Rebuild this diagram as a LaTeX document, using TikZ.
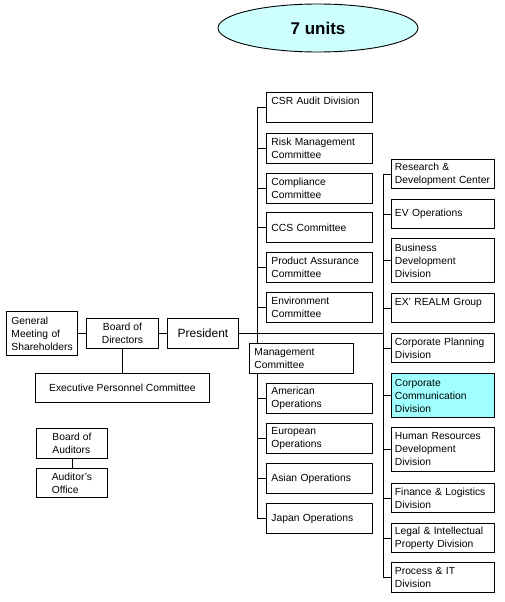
\documentclass[tikz,border=0pt]{standalone}
\usepackage{fontspec}
\setmainfont{Liberation Sans}
\usetikzlibrary{shapes.geometric}
\newcommand{\unitFont}[0]{\fontsize{10.3}{13}\selectfont\hyphenpenalty=10000\exhyphenpenalty=10000}
\definecolor{unitCyan}{RGB}{160,255,255}
\definecolor{ovalCyan}{RGB}{205,255,255}

\begin{document}
\begin{tikzpicture}[x=1pt, y=-1pt, line width=0.9pt]
  \tikzset{box/.style={draw, fill=white, anchor=north west, align=left, inner xsep=5pt, inner ysep=2pt, font=\unitFont},
    left-col/.style={box, text width=96pt, minimum height=30pt},
    right-col/.style={box, inner xsep=3.5pt, text width=96pt, minimum height=29pt},
    right-tall/.style={right-col, minimum height=44pt}}
  \useasboundingbox (0,0) rectangle (504,602);
  \node[ellipse, draw, fill=ovalCyan, minimum width=200pt, minimum height=48pt, inner sep=0pt,
    font=\fontsize{17}{20}\selectfont\bfseries] (units) at (318,28) {7 units};

  \node[box, text width=61pt, minimum height=44pt] (general) at (6,311) {General\\Meeting of\\Shareholders};
  \node[box, align=center, minimum width=72pt, minimum height=30pt, inner xsep=2pt] (board) at (86,318) {Board of\\Directors};
  \node[box, align=center, minimum width=71pt, minimum height=30pt, font=\fontsize{12}{14}\selectfont] (president) at (167,318) {President};
  \node[box, align=center, minimum width=174pt, minimum height=29pt] (executive) at (35,373) {Executive Personnel Committee};
  \node[box, minimum width=71pt, minimum height=30pt] (auditors) at (36,428) {Board of\\Auditors};
  \node[box, minimum width=71pt, minimum height=29pt] (office) at (36,468) {Auditor's\\Office};

  \node[left-col] (csr-audit) at (266,92) {CSR Audit Division\\\mbox{}};
  \node[left-col] (risk-mgmt) at (266,133) {Risk Management\\Committee};
  \node[left-col] (compliance) at (266,173) {Compliance\\Committee};
  \node[left-col] (ccs) at (266,212) {CCS Committee};
  \node[left-col] (product) at (266,252) {Product Assurance\\Committee};
  \node[left-col] (environment) at (266,292) {Environment\\Committee};
  \node[box, text width=94pt, minimum height=30pt] (mgmt) at (249,343) {Management\\Committee};
  \node[left-col] (american) at (266,383) {American\\Operations};
  \node[left-col] (european) at (266,423) {European\\Operations};
  \node[left-col] (asian) at (266,463) {Asian Operations};
  \node[left-col] (japan) at (266,503) {Japan Operations};

  \node[right-col] (rnd) at (391,159) {Research \&\\\mbox{Development Center}};
  \node[right-col] (ev) at (391,199) {EV Operations};
  \node[right-tall] (business) at (391,238) {Business\\Development\\Division};
  \node[right-col] (ex-realm) at (391,293) {EX' REALM Group\\\mbox{}};
  \node[right-col] (planning) at (391,333) {Corporate Planning\\Division};
  \node[right-tall, fill=unitCyan] (communication) at (391,373) {Corporate\\Communication\\Division};
  \node[right-tall] (hr) at (391,427) {Human Resources\\Development\\Division};
  \node[right-col] (finance) at (391,483) {Finance \& Logistics\\Division};
  \node[right-col] (legal) at (391,523) {Legal \& Intellectual\\Property Division};
  \node[right-col, minimum height=30pt] (process) at (391,562) {Process \& IT\\Division};

  \coordinate (left-trunk) at (257,0);
  \coordinate (right-trunk) at (383,0);
  \draw (general.east) -- (board.west);
  \draw (board.east) -- (president.west);
  \draw (president.east) -- (president.east -| right-trunk);
  \draw (board.south) -- (executive.north);
  \draw (auditors.south) -- (office.north);
  \draw (csr-audit.west -| left-trunk) -- (mgmt.north -| left-trunk);
  \draw (mgmt.south -| left-trunk) -- (japan.west -| left-trunk);
  \foreach \unit in {csr-audit,risk-mgmt,compliance,ccs,product,environment,american,european,asian,japan}
    \draw (\unit.west) -- (\unit.west -| left-trunk);
  \draw (rnd.west -| right-trunk) -- (process.west -| right-trunk);
  \foreach \unit in {rnd,ev,business,ex-realm,planning,communication,hr,finance,legal,process}
    \draw (\unit.west) -- (\unit.west -| right-trunk);
\end{tikzpicture}
\end{document}
